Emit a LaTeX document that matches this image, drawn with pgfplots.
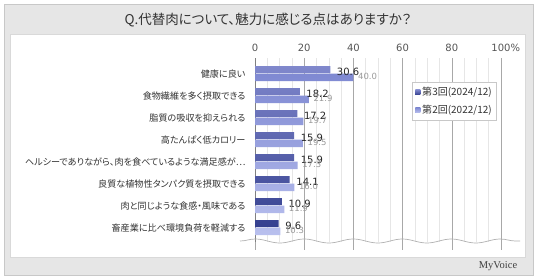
\documentclass[border=0pt]{standalone}
\usepackage{pgfplots}
\pgfplotsset{compat=1.18}
\usepackage{fontspec}
\usetikzlibrary{decorations.pathmorphing}
\newfontfamily\jp[RawFeature=+palt]{Noto Sans CJK JP}
\newfontfamily\num{DejaVu Sans}
\newfontfamily\logo{Liberation Serif}
\definecolor{darkA}{HTML}{8088CC}
\definecolor{darkB}{HTML}{4A54A8}
\definecolor{darkC}{HTML}{35408F}
\definecolor{lightA}{HTML}{7F89D2}
\definecolor{lightB}{HTML}{97A0E0}
\definecolor{lightC}{HTML}{B9C0EE}
\definecolor{legdark}{HTML}{3F4AA0}
\definecolor{leglight}{HTML}{949EE0}
\definecolor{txt}{HTML}{333333}
\definecolor{tickgray}{HTML}{555555}
\definecolor{valgray}{HTML}{9A9A9A}
\definecolor{framegray}{HTML}{E6E6E6}
\definecolor{frameline}{HTML}{C8C8C8}
\definecolor{majorgrid}{HTML}{A8A8A8}
\definecolor{minorgrid}{HTML}{E6E6E6}
\begin{document}
\begin{tikzpicture}[x=1bp,y=1bp]
\path[use as bounding box] (0,0) rectangle (536,279);
\fill[white] (0,0) rectangle (536,279);
\filldraw[fill=framegray,draw=frameline,line width=0.8bp] (4,4) rectangle (533,275);
\filldraw[fill=white,draw=frameline!70,line width=0.6bp] (10,22) rectangle (525,245);
\node[font=\jp\fontsize{13.5bp}{15bp}\selectfont,text=txt] at (268,259) {Q.代替肉について、魅力に感じる点はありますか？};
\node[font=\logo\fontsize{10.5bp}{12bp}\selectfont,text=black!75] at (498,13) {MyVoice};
\begin{axis}[
  at={(255bp,37bp)}, anchor=south west,
  scale only axis, width=246bp, height=184bp,
  xmin=0, xmax=100, ymin=-0.682, ymax=7.682,
  y dir=reverse,
  clip=false,
  axis x line*=top,
  axis y line*=left,
  x axis line style={draw=none},
  y axis line style={draw=black!50,line width=0.8bp},
  xtick={0,20,40,60,80,100},
  xticklabels={0,20,40,60,80,{100\makebox[0pt][l]{\%}}},
  minor xtick={5,10,15,25,30,35,45,50,55,65,70,75,85,90,95},
  xmajorgrids, xminorgrids,
  major grid style={draw=majorgrid,line width=0.6bp},
  minor grid style={draw=minorgrid,line width=0.6bp},
  major tick length=0pt, minor tick length=0pt,
  xticklabel style={font=\num\fontsize{10bp}{12bp}\selectfont,text=tickgray,yshift=3bp},
  ytick={0,1,2,3,4,5,6,7},
  yticklabels={健康に良い,食物繊維を多く摂取できる,脂質の吸収を抑えられる,高たんぱく低カロリー,ヘルシーでありながら、肉を食べているような満足感が…,良質な植物性タンパク質を摂取できる,肉と同じような食感・風味である,畜産業に比べ環境負荷を軽減する},
  yticklabel style={font=\jp\fontsize{9.1bp}{11bp}\selectfont,text=txt,xshift=-6bp,yshift=-1bp},
  /pgf/number format/.cd,fixed,fixed zerofill,precision=1,assume math mode=true,/pgfplots/.cd,
  legend style={at={(0.984,0.870)},anchor=north east,draw=frameline,fill=white,
    font=\jp\fontsize{10bp}{12bp}\selectfont,text=txt,inner xsep=3bp,inner ysep=3bp,
    row sep=4bp,line width=0.6bp},
  legend cell align=left,
]
\addplot[xbar, bar width=7bp, bar shift=3.5bp, draw=none,
  top color=darkA, middle color=darkB, bottom color=darkC,
  nodes near coords,
  every node near coord/.append style={font=\num\fontsize{10bp}{12bp}\selectfont,text=black!85,inner xsep=1bp,inner ysep=0pt,xshift=5.5bp,yshift=1bp},
  legend image code/.code={\fill[legdark] (0bp,-2.5bp) rectangle (5bp,2.5bp);}]
coordinates {(30.6,0) (18.2,1) (17.2,2) (15.9,3) (15.9,4) (14.1,5) (10.9,6) (9.6,7)};
\addlegendentry{第3回(2024/12)}
\addplot[xbar, bar width=7.5bp, bar shift=-4.25bp, draw=none,
  top color=lightA, middle color=lightB, bottom color=lightC,
  nodes near coords,
  every node near coord/.append style={font=\num\fontsize{8.5bp}{10bp}\selectfont,text=valgray,inner xsep=1bp,inner ysep=0pt,xshift=3.5bp,yshift=-3bp},
  legend image code/.code={\fill[leglight] (0bp,-2.5bp) rectangle (5bp,2.5bp);}]
coordinates {(40.0,0) (21.9,1) (19.7,2) (19.5,3) (17.3,4) (16.0,5) (11.9,6) (10.3,7)};
\addlegendentry{第2回(2022/12)}
\foreach \xx in {0,20,40,60,80,100} {
  \edef\tmp{\noexpand\draw[draw=majorgrid,line width=0.6bp] (axis cs:\xx,7.682) -- (axis cs:\xx,8.045);}
  \tmp
}
\end{axis}
\draw[draw=black!30,line width=0.7bp,decorate,decoration={snake,amplitude=2bp,segment length=49bp}] (240,38) -- (520,38);
\end{tikzpicture}
\end{document}
